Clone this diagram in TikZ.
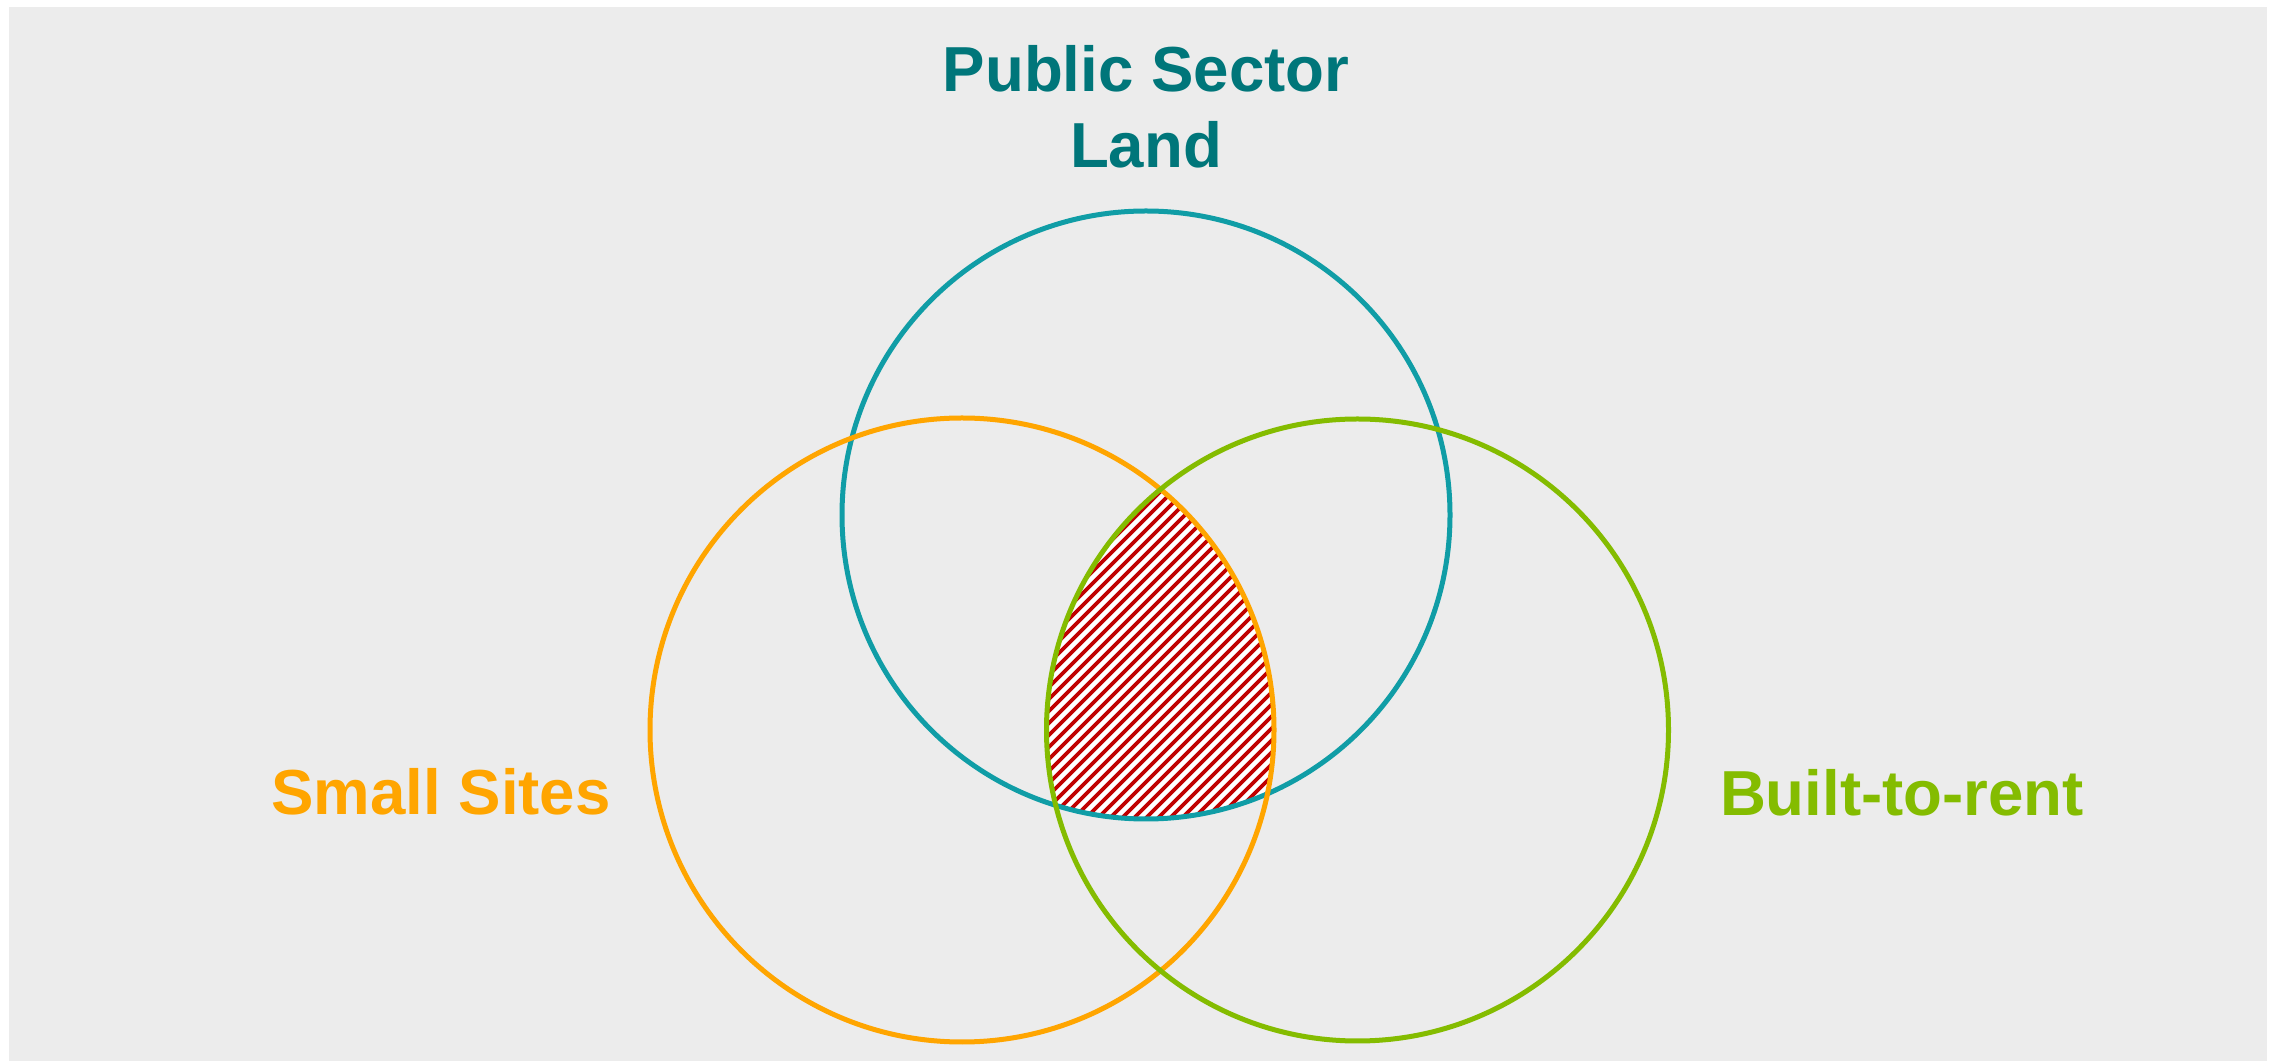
\documentclass[tikz,border=0pt]{standalone}
\usepackage{fontspec}
\setmainfont{Liberation Sans}

\definecolor{panelgrey}{RGB}{236,236,236}
\definecolor{tealline}{RGB}{16,157,166}
\definecolor{tealtext}{RGB}{0,118,122}
\definecolor{orangeline}{RGB}{255,165,0}
\definecolor{greenline}{RGB}{132,188,0}
\definecolor{hatchred}{RGB}{192,0,0}

\tikzset{
  hatch/.style={draw=hatchred, line width=0.036cm},
  ring/.style={circle, draw, line width=0.05cm, inner sep=0pt, outer sep=0pt}
}

\begin{document}
\begin{tikzpicture}

        \useasboundingbox (0,0) rectangle (22.77,10.62);
        \fill[panelgrey] (0.09,0.01) rectangle (22.67,10.55);

        \coordinate (p0) at (11.46,5.47);
        \coordinate (s0) at (9.62,3.32);
        \coordinate (b0) at (13.575,3.32);

        \begin{scope}
          \clip (p0) circle (3.04);
          \clip (s0) circle (3.12);
          \clip (b0) circle (3.11);
          \fill[white] (10,2) rectangle (13,6);
          \foreach \k in {0,...,48}
            \draw[hatch] ({7+0.12*\k},2.3) -- ++(3.5,3.5);
        \end{scope}

        \begin{scope}[every node/.style={ring}]
          \node[draw=tealline,   minimum size=6.08cm] (p) at (p0) {};
          \node[draw=orangeline, minimum size=6.24cm] (s) at (s0) {};
          \node[draw=greenline,  minimum size=6.22cm] (b) at (b0) {};
        \end{scope}

        \begin{scope}[every node/.style={font=\bfseries\fontsize{18.1}{21.6}\selectfont, align=center}]
          \node[text=tealtext] (pl) at (11.46,9.555) {Public Sector\\Land};
          \node[text=orangeline, anchor=base] (sl) at (4.41,2.47) {Small Sites};
          \node[text=greenline, anchor=base] (bl) at (19.02,2.46) {Built-to-rent};
        \end{scope}

\end{tikzpicture}
\end{document}
